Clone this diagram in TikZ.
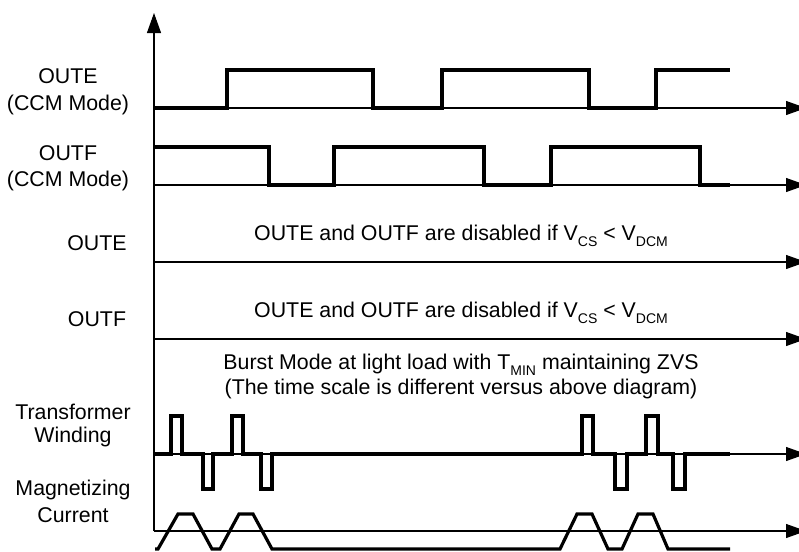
\documentclass[tikz,border=0pt]{standalone}
\usepackage{fontspec}
\setmainfont{Liberation Sans}
\usetikzlibrary{arrows.meta}

\tikzset{
  axis/.style={line width=0.8pt,-{Triangle[length=15pt,width=10.5pt]}},
  sigline/.style={line width=2.4pt},
  lbl/.style={font=\fontsize{16}{19}\selectfont,inner sep=0pt,anchor=base},
}
\newcommand{\lsub}[1]{\raisebox{-4.8pt}{\fontsize{10.5}{12}\selectfont #1}}

\begin{document}
\begin{tikzpicture}[x=0.75pt,y=-0.75pt]
\useasboundingbox (0,0) rectangle (799,551);
% axes
\draw[axis] (154,531) -- (154,13);
\foreach \y in {108,185,262,339,454,531} {
  \draw[axis] (154,\y) -- (806,\y);
}
% OUTE / OUTF in CCM mode
\draw[sigline] (155,108) -- (227,108) -- (227,70) -- (373,70) -- (373,108) -- (442,108) -- (442,70)
  -- (589,70) -- (589,108) -- (656,108) -- (656,70) -- (730,70);
\draw[sigline] (155,147) -- (269,147) -- (269,185) -- (334,185) -- (334,147) -- (484,147) -- (484,185)
  -- (551,185) -- (551,147) -- (700,147) -- (700,185) -- (730,185);
% transformer winding
\draw[sigline] (155,454) -- (171,454) -- (171,416) -- (182,416) -- (182,454) -- (203,454) -- (203,489)
  -- (213,489) -- (213,454) -- (232,454) -- (232,416) -- (243,416) -- (243,454) -- (261,454)
  -- (261,489) -- (272,489) -- (272,454) -- (582,454) -- (582,416) -- (593,416) -- (593,454)
  -- (615,454) -- (615,489) -- (627,489) -- (627,454) -- (646,454) -- (646,416) -- (658,416)
  -- (658,454) -- (673,454) -- (673,489) -- (685,489) -- (685,454) -- (730,454);
% magnetizing current
\draw[sigline] (155,549) -- (158,549) -- (178,514) -- (193,514) -- (212,549) -- (220,549) -- (239,514)
  -- (253,514) -- (272,549) -- (560,549) -- (577,514) -- (592,514) -- (608,549) -- (622,549)
  -- (638,514) -- (653,514) -- (668,549) -- (730,549);
% labels
\node[lbl] (outeccm) at (68,83) {OUTE};
\node[lbl] (outeccmmode) at (68,110) {(CCM Mode)};
\node[lbl] (outfccm) at (68,160) {OUTF};
\node[lbl] (outfccmmode) at (68,186) {(CCM Mode)};
\node[lbl] (oute) at (97,250) {OUTE};
\node[lbl] (outf) at (97,326) {OUTF};
\node[lbl] (trafo) at (73,419) {Transformer};
\node[lbl] (winding) at (73,442) {Winding};
\node[lbl] (magn) at (73,495) {Magnetizing};
\node[lbl] (current) at (73,522) {Current};
\node[lbl] (disablede) at (461,240) {OUTE and OUTF are disabled if V\lsub{CS} < V\lsub{DCM}};
\node[lbl] (disabledf) at (461,317) {OUTE and OUTF are disabled if V\lsub{CS} < V\lsub{DCM}};
\node[lbl] (burst) at (461,369) {Burst Mode at light load with T\lsub{MIN} maintaining ZVS};
\node[lbl] (timescale) at (461,394) {(The time scale is different versus above diagram)};
\end{tikzpicture}
\end{document}
